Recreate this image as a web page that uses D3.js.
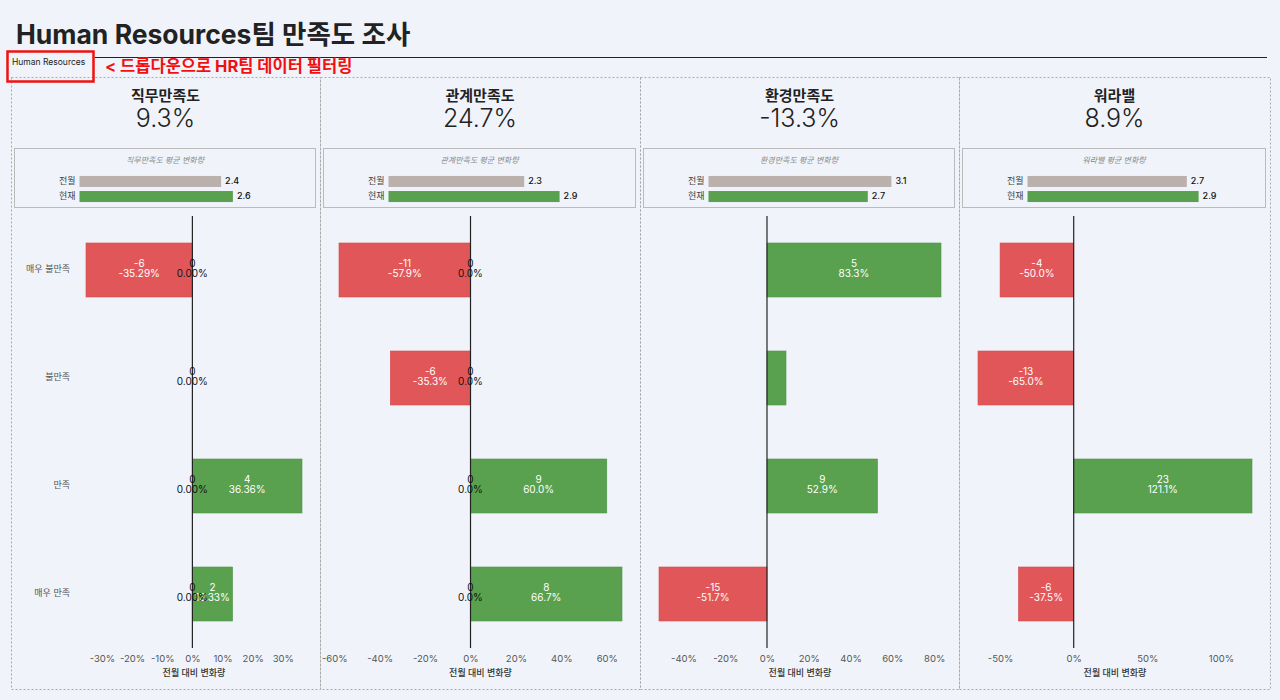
<!DOCTYPE html>
<html>
<head>
<meta charset="utf-8">
<script src="https://cdn.jsdelivr.net/npm/d3@7"></script>
<style>
  body { margin: 0; background: #f0f4fa; }
  text { font-family: Inter, 'Noto Sans CJK KR', sans-serif; }
</style>
</head>
<body>
<svg id="chart" width="1280" height="700"></svg>
<script>
// 설문 항목과 패널 제목
const categories = ['매우 불만족', '불만족', '만족', '매우 만족']
const panelTitles = ['직무만족도', '관계만족도', '환경만족도', '워라밸']
const headlinePct = [9.3, 24.7, -13.3, 8.9]

// 평균 점수 (전월 / 현재)
const prevAvg = [2.4, 2.3, 3.1, 2.7]
const currAvg = [2.6, 2.9, 2.7, 2.9]

// 응답자 수 변화량과 전월 대비 변화율(%)
const countChange = [[-6, 0, 4, 2], [-11, -6, 9, 8], [5, 1, 9, -15], [-4, -13, 23, -6]]
const pctChange = [[-35.29, 0, 36.36, 13.33], [-57.9, -35.3, 60.0, 66.7], [83.3, 9.1, 52.9, -51.7], [-50.0, -65.0, 121.1, -37.5]]
const pctDigits = [2, 1, 1, 1]
const showZeroLabel = [true, true, false, false]
const tickValues = [[-30, -20, -10, 0, 10, 20, 30], [-60, -40, -20, 0, 20, 40, 60], [-40, -20, 0, 20, 40, 60, 80], [-50, 0, 50, 100]]

// layout
const panelEdges = [11, 320, 640, 959, 1270]
const panelTop = 77, panelBottom = 689
const red = '#e15759', green = '#59a14f', grey = '#bab0ac'

// 마이너스 기호를 일반 하이픈으로
const locale = d3.formatLocale({ decimal: '.', thousands: ',', grouping: [3], currency: ['', ''], minus: '-' })

const svg = d3.select('#chart')

// 제목
svg.append('text')
    .attr('x', 16).attr('y', 44)
    .attr('font-size', 26.5).attr('font-weight', 700).attr('fill', '#222')
    .text('Human Resources팀 만족도 조사')

svg.append('line')
    .attr('x1', 95).attr('x2', 1267).attr('y1', 57.5).attr('y2', 57.5)
    .attr('stroke', '#222').attr('stroke-width', 1)

// dropdown + annotation
svg.append('text')
    .attr('x', 12).attr('y', 63)
    .attr('dominant-baseline', 'middle')
    .attr('font-size', 8.5).attr('fill', '#222')
    .text('Human Resources')

svg.append('text')
    .attr('x', 105).attr('y', 67)
    .attr('dominant-baseline', 'middle')
    .attr('font-size', 16.5).attr('font-weight', 700).attr('fill', '#f01010')
    .text('< 드롭다운으로 HR팀 데이터 필터링')

panelTitles.forEach(function (title, i) {
    const x0 = panelEdges[i]
    const x1 = panelEdges[i + 1]
    const cx = (x0 + x1) / 2
    const g = svg.append('g')

    // panel border
    g.append('rect')
        .attr('x', x0 + 0.5).attr('y', panelTop + 0.5)
        .attr('width', x1 - x0).attr('height', panelBottom - panelTop)
        .attr('fill', 'none').attr('stroke', '#aaa').attr('stroke-dasharray', '2,2')

    g.append('text')
        .attr('x', cx).attr('y', 97)
        .attr('text-anchor', 'middle').attr('dominant-baseline', 'middle')
        .attr('font-size', 15).attr('font-weight', 700).attr('fill', '#222')
        .text(title)

    g.append('text')
        .attr('x', cx).attr('y', 120)
        .attr('text-anchor', 'middle').attr('dominant-baseline', 'middle')
        .attr('font-size', 25).attr('font-weight', 300).attr('fill', '#222')
        .text(locale.format('.1f')(headlinePct[i]) + '%')

    // 평균 변화량 박스
    const boxL = x0 + 3.5
    const boxW = (x1 - x0) - 8
    g.append('rect')
        .attr('x', boxL).attr('y', 148.5)
        .attr('width', boxW).attr('height', 59)
        .attr('fill', 'none').attr('stroke', '#bbb')

    g.append('text')
        .attr('x', boxL + boxW / 2).attr('y', 161)
        .attr('text-anchor', 'middle').attr('dominant-baseline', 'middle')
        .attr('font-size', 8).attr('font-style', 'italic').attr('fill', '#888')
        .text(title + ' 평균 변화량')

    const avgX = d3.scaleLinear().domain([0, 5]).range([boxL + 65, boxL + 65 + 295])
    const avgY = d3.scaleBand().domain(['전월', '현재']).range([174, 204]).paddingInner(0.27).paddingOuter(0.13)
    const avgRows = [{ k: '전월', v: prevAvg[i], c: grey }, { k: '현재', v: currAvg[i], c: green }]

    g.selectAll('.avgbar').data(avgRows).enter().append('rect')
        .attr('x', avgX(0)).attr('y', d => avgY(d.k))
        .attr('width', d => avgX(d.v) - avgX(0)).attr('height', avgY.bandwidth())
        .attr('fill', d => d.c)
    g.selectAll('.avglab').data(avgRows).enter().append('text')
        .attr('x', avgX(0) - 4).attr('y', d => avgY(d.k) + avgY.bandwidth() / 2)
        .attr('text-anchor', 'end').attr('dominant-baseline', 'middle')
        .attr('font-size', 9).attr('fill', '#444')
        .text(d => d.k)
    g.selectAll('.avgval').data(avgRows).enter().append('text')
        .attr('x', d => avgX(d.v) + 4).attr('y', d => avgY(d.k) + avgY.bandwidth() / 2)
        .attr('dominant-baseline', 'middle')
        .attr('font-size', 9).attr('font-weight', 500).attr('fill', '#111')
        .text(d => d3.format('.1f')(d.v))

    // diverging bar chart
    const rows = categories.map((c, j) => ({ cat: c, n: countChange[i][j], p: pctChange[i][j] }))
    const left = x0 + (i === 0 ? 75 : 19)
    const right = x1 - 18
    const x = d3.scaleLinear().domain(d3.extent(pctChange[i].concat([0]))).range([left, right])
    const y = d3.scaleBand().domain(categories).range([216, 648]).paddingInner(0.5).paddingOuter(0.25)
    const fmt = locale.format('.' + pctDigits[i] + 'f')

    const bars = rows.filter(d => d.p !== 0)
    g.selectAll('.bar').data(bars).enter().append('rect')
        .attr('x', d => x(Math.min(0, d.p)))
        .attr('y', d => y(d.cat))
        .attr('width', d => Math.abs(x(d.p) - x(0)))
        .attr('height', y.bandwidth())
        .attr('fill', d => d.p < 0 ? red : green)
        .attr('stroke', d => d.p < 0 ? '#d24a4c' : '#4f9446').attr('stroke-width', 0.6)

    const labelled = bars.filter(d => Math.abs(x(d.p) - x(0)) > 25)
    const lab = g.selectAll('.barlab').data(labelled).enter().append('text')
        .attr('text-anchor', 'middle').attr('font-size', 10).attr('fill', '#fff')
    lab.append('tspan')
        .attr('x', d => (x(d.p) + x(0)) / 2).attr('y', d => y(d.cat) + y.bandwidth() / 2 - 3.5)
        .text(d => d.n)
    lab.append('tspan')
        .attr('x', d => (x(d.p) + x(0)) / 2).attr('y', d => y(d.cat) + y.bandwidth() / 2 + 7)
        .text(d => fmt(d.p) + '%')

    g.append('line')
        .attr('x1', x(0)).attr('x2', x(0)).attr('y1', 216).attr('y2', 648)
        .attr('stroke', '#222').attr('stroke-width', 1.2)

    if (showZeroLabel[i]) {
        const zl = g.selectAll('.zerolab').data(categories).enter().append('text')
            .attr('text-anchor', 'middle').attr('font-size', 10).attr('fill', '#111')
        zl.append('tspan')
            .attr('x', x(0)).attr('y', d => y(d) + y.bandwidth() / 2 - 3.5)
            .text('0')
        zl.append('tspan')
            .attr('x', x(0)).attr('y', d => y(d) + y.bandwidth() / 2 + 7)
            .text(fmt(0) + '%')
    }

    if (i === 0) {
        g.selectAll('.catlab').data(categories).enter().append('text')
            .attr('x', x0 + 59).attr('y', d => y(d) + y.bandwidth() / 2)
            .attr('text-anchor', 'end').attr('dominant-baseline', 'middle')
            .attr('font-size', 9).attr('fill', '#555')
            .text(d => d)
    }

    const axis = g.append('g')
        .attr('transform', 'translate(0,648)')
        .call(d3.axisBottom(x).tickValues(tickValues[i]).tickFormat(d => d + '%').tickSize(0).tickPadding(7))
    axis.select('.domain').remove()
    axis.selectAll('text')
        .attr('font-size', 9.5).attr('fill', '#555')
        .style('font-family', "Inter, 'Noto Sans CJK KR', sans-serif")

    g.append('text')
        .attr('x', (left + right) / 2).attr('y', 674)
        .attr('text-anchor', 'middle').attr('dominant-baseline', 'middle')
        .attr('font-size', 9).attr('font-weight', 500).attr('fill', '#333')
        .text('전월 대비 변화량')
})

// 빨간 주석 박스
svg.append('rect')
    .attr('x', 7.5).attr('y', 51.5).attr('width', 86).attr('height', 30)
    .attr('fill', 'none').attr('stroke', '#f01010').attr('stroke-width', 2.5)
</script>
</body>
</html>
